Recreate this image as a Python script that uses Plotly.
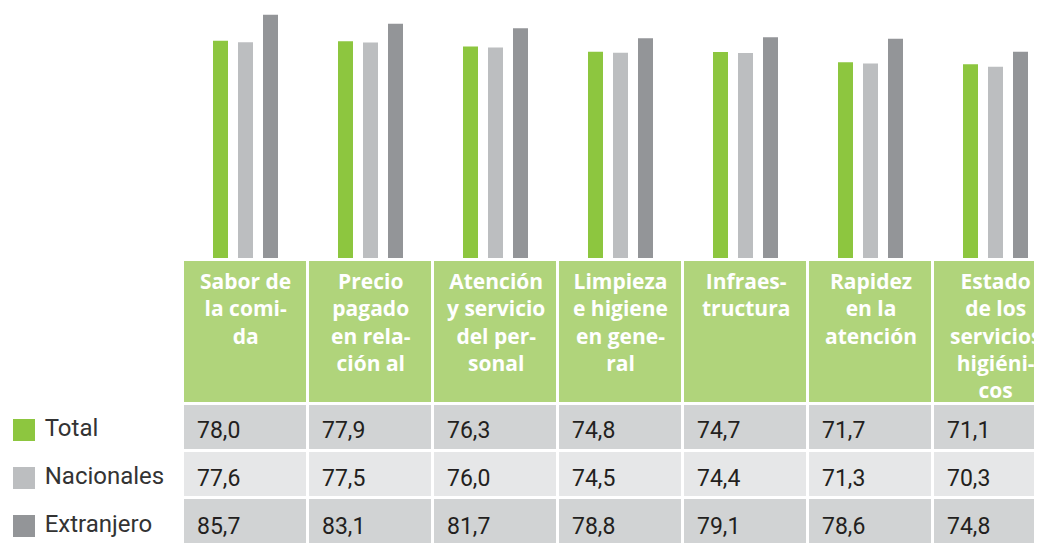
import plotly.graph_objects as go

# categories (header labels, hyphenated like the source)
categories = [
    "Sabor de<br>la comi-<br>da",
    "Precio<br>pagado<br>en rela-<br>ción al",
    "Atención<br>y servicio<br>del per-<br>sonal",
    "Limpieza<br>e higiene<br>en gene-<br>ral",
    "Infraes-<br>tructura",
    "Rapidez<br>en la<br>atención",
    "Estado<br>de los<br>servicios<br>higiéni-<br>cos",
]
series_names = ["Total", "Nacionales", "Extranjero"]
total = [78.0, 77.9, 76.3, 74.8, 74.7, 71.7, 71.1]
nacionales = [77.6, 77.5, 76.0, 74.5, 74.4, 71.3, 70.3]
extranjero = [85.7, 83.1, 81.7, 78.8, 79.1, 78.6, 74.8]

colors = ["#8dc63f", "#bcbec0", "#939598"]
row_fill = ["#d1d3d4", "#e6e7e8", "#d1d3d4"]
header_green = "#b0d47b"
font_family = "Roboto, 'DejaVu Sans', sans-serif"
head_family = "'Open Sans', 'DejaVu Sans', sans-serif"

# the page body adds an 8px margin, so the figure is 8px smaller each way
W, H = 1034, 536
fig = go.Figure()

idx = list(range(len(categories)))
series = [total, nacionales, extranjero]
for name, vals, col in zip(series_names, series, colors):
    fig.add_trace(go.Bar(
        x=idx, y=vals, name=name, marker_color=col, marker_line_width=0,
        showlegend=False, hoverinfo="skip",
        xaxis="x", yaxis="y",
    ))

# table grid: coloured header and alternating grey rows
clear = "rgba(0,0,0,0)"
fig.add_trace(go.Table(
    domain=dict(x=[0, 1], y=[0, 1 - 251 / H]),
    columnwidth=[174, 125, 125, 125, 125, 125, 125, 110],
    header=dict(
        values=[""] * 8,
        fill_color=[clear] + [header_green] * 7,
        line=dict(color="white", width=3),
        height=144,
    ),
    cells=dict(
        values=[[""] * 3] * 8,
        fill_color=[[clear] * 3] + [row_fill] * 7,
        line=dict(color="white", width=3),
        height=47,
    ),
))

# header labels
for i, c in zip(idx, categories):
    fig.add_annotation(
        x=i, y=1 - 257 / H, xref="x", yref="paper",
        xanchor="center", yanchor="top", align="center",
        text=f"<b>{c}</b>", showarrow=False,
        font=dict(family=head_family, size=21, color="white"),
    )

# cell values, placed by category (column) and series (row)
fmt = lambda v: f"{v:.1f}".replace(".", ",")
for name, vals in zip(series_names, series):
    for i, v in zip(idx, vals):
        fig.add_annotation(
            x=i, y=name, xref="x", yref="y2",
            xanchor="left", yanchor="middle", xshift=-51,
            text=fmt(v), showarrow=False,
            font=dict(family=font_family, size=23, color="#231f20"),
        )

# legend squares + labels in the first column
fig.add_trace(go.Scatter(
    x=[0, 0, 0], y=series_names, mode="markers+text",
    text=["\u00a0" + s for s in series_names], textposition="middle right",
    textfont=dict(family=font_family, size=24, color="#333333"),
    marker=dict(symbol="square", size=22, color=colors),
    showlegend=False, hoverinfo="skip",
    xaxis="x2", yaxis="y2",
))

fig.update_layout(
    width=W, height=H,
    margin=dict(l=0, r=0, t=0, b=0),
    paper_bgcolor="white", plot_bgcolor="white",
    barmode="group", bargap=0.4, bargroupgap=0.4,
    xaxis=dict(domain=[0, 1], range=[-237.5 / 125, (W - 237.5) / 125],
               visible=False, fixedrange=True),
    yaxis=dict(domain=[1 - 250 / H, 1], range=[13.7, 87.73],
               visible=False, fixedrange=True),
    xaxis2=dict(domain=[0, 174 / W], range=[-16, 158],
                visible=False, fixedrange=True),
    yaxis2=dict(domain=[0, 141 / H], range=[2.375, -0.5625], type="category",
                anchor="x2", visible=False, fixedrange=True),
    font=dict(family=font_family),
)

fig.write_html("out.html")
